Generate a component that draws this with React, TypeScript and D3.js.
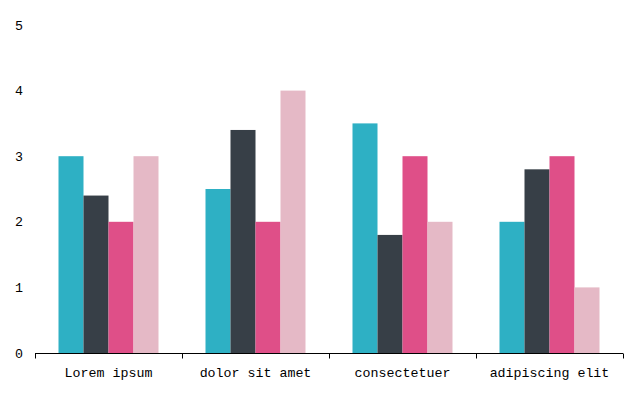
import React, { useEffect, useRef } from "react";
import * as d3 from "d3";

const categories = ["Lorem ipsum", "dolor sit amet", "consectetuer", "adipiscing elit"];
const seriesA = [3, 2.5, 3.5, 2];
const seriesB = [2.4, 3.4, 1.8, 2.8];
const seriesC = [2, 2, 3, 3];
const seriesD = [3, 4, 2, 1];
const yTicks = [0, 1, 2, 3, 4, 5];
const colors = ["#2eb0c4", "#373f47", "#df4f88", "#e5b9c6"];

export default function App() {
  const ref = useRef<SVGSVGElement>(null);
  useEffect(() => {
    const svg = d3.select(ref.current);
    svg.selectAll("*").remove();
    const W = 641, H = 397;
    const x0 = d3.scaleBand().domain(categories).range([35, 623]).paddingInner(0).paddingOuter(0);
    const series = [seriesA, seriesB, seriesC, seriesD];
    const x1 = d3.scaleBand().domain(d3.range(series.length).map(String)).range([0, 100]);
    const y = d3.scaleLinear().domain([0, 5]).range([353, 25]);
    const font = "'Liberation Mono', 'DejaVu Sans Mono', monospace";

    const g = svg.append("g");
    categories.forEach((c, ci) => {
      const off = x0(c)! + (x0.bandwidth() - 100) / 2;
      series.forEach((s, si) => {
        g.append("rect")
          .attr("x", off + x1(String(si))!)
          .attr("y", y(s[ci]))
          .attr("width", x1.bandwidth())
          .attr("height", y(0) - y(s[ci]))
          .attr("fill", colors[si]);
      });
    });

    const xAxis = svg.append("g").attr("transform", "translate(0,353.5)");
    xAxis.append("line").attr("x1", 35).attr("x2", 623).attr("stroke", "#000");
    const bounds = [...categories.map((c) => x0(c)!), 623];
    bounds.forEach((b) => {
      xAxis.append("line").attr("x1", Math.round(b) + 0.5).attr("x2", Math.round(b) + 0.5).attr("y1", 0).attr("y2", 5).attr("stroke", "#000");
    });
    categories.forEach((c) => {
      xAxis.append("text")
        .attr("x", x0(c)! + x0.bandwidth() / 2)
        .attr("y", 19)
        .attr("dy", "0.35em")
        .attr("text-anchor", "middle")
        .attr("font-family", font)
        .attr("font-size", 13.3)
        .attr("fill", "#000")
        .text(c);
    });

    yTicks.forEach((t) => {
      svg.append("text")
        .attr("x", 19)
        .attr("y", y(t))
        .attr("dy", "0.35em")
        .attr("text-anchor", "middle")
        .attr("font-family", font)
        .attr("font-size", 13.3)
        .attr("fill", "#000")
        .text(String(t));
    });
    svg.attr("width", W).attr("height", H);
  }, []);
  return (
    <svg ref={ref} width={641} height={397} style={{ position: "absolute", left: 0, top: 0 }} />
  );
}
